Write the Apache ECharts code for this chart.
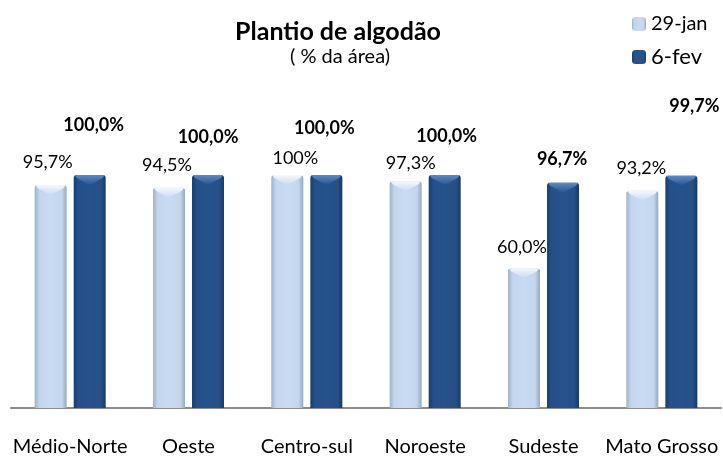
<!DOCTYPE html>
<html><head><meta charset="utf-8">
<script src="https://cdn.jsdelivr.net/npm/echarts@6/dist/echarts.min.js"></script>
<style>html,body{margin:0;padding:0;background:#fff}#c{width:723px;height:457px}</style>
</head><body><div id="c"></div>
<script>
const categories = ['Médio-Norte','Oeste','Centro-sul','Noroeste','Sudeste','Mato Grosso'];
const jan29 = [95.7, 94.5, 100, 97.3, 60.0, 93.2];
const fev6 = [100.0, 100.0, 100.0, 100.0, 96.7, 99.7];
const jan29Labels = ['95,7%','94,5%','100%','97,3%','60,0%','93,2%'];
const fev6Labels = ['100,0%','100,0%','100,0%','100,0%','96,7%','99,7%'];

// label placement tweaks (layout only)
const janOff = [[-3,-9],[-2,-9],[8,-3],[5,-4],[-2,-7],[-1,-9]];
const fevOff = [[4,-36],[0,-24],[-2,-33],[2,-25],[-1,-10],[13,-56]];

const FONT = 'Lato';
const BAR_W = 32, SHIFT = 19.5;
const chart = echarts.init(document.getElementById('c'));
const lightGrad = new echarts.graphic.LinearGradient(0,0,1,0,[
  {offset:0,color:'#9fb2c8'},{offset:0.15,color:'#c3d6ee'},{offset:0.5,color:'#c8dbf2'},{offset:0.85,color:'#c3d6ee'},{offset:1,color:'#95a8be'}]);
const darkGrad = new echarts.graphic.LinearGradient(0,0,1,0,[
  {offset:0,color:'#173e6c'},{offset:0.15,color:'#25508a'},{offset:0.5,color:'#27538c'},{offset:0.85,color:'#25508a'},{offset:1,color:'#163a66'}]);

function bevel(shift, topColor, baseColor){
  return function(params, api){
    const c = api.coord([api.value(0), api.value(1)]);
    const cx = c[0] + shift, T = c[1];
    const L = cx - BAR_W/2 + 1, R = cx + BAR_W/2 - 1;
    return {type:'polygon', silent:true,
      shape:{points:[[L,T],[R,T],[R-2,T+3],[cx,T+10],[L+2,T+3]]},
      style:{fill:new echarts.graphic.LinearGradient(0,0,0,1,[{offset:0,color:topColor},{offset:1,color:baseColor}])}};
  };
}

chart.setOption({
  animation:false,
  title:[
    {text:'Plantio de algodão', left:333, textAlign:'center', top:14, textStyle:{fontFamily:FONT,fontSize:25,fontWeight:'bold',color:'#000'}},
    {text:'( % da área)', left:335, textAlign:'center', top:42, textStyle:{fontFamily:FONT,fontSize:20,fontWeight:'normal',color:'#000'}}
  ],
  legend:[
    {data:['29-jan'], left:627, top:9, itemWidth:14, itemHeight:14, textStyle:{fontFamily:FONT,fontSize:20,color:'#000'}},
    {data:['6-fev'], left:627, top:41, itemWidth:14, itemHeight:14, textStyle:{fontFamily:FONT,fontSize:22,color:'#000'}}
  ],
  grid:{left:11, right:2, top:175, bottom:49, containLabel:false},
  xAxis:{type:'category', data:categories, axisTick:{show:false},
    axisLine:{lineStyle:{color:'#8c8c8c',width:2}},
    axisLabel:{fontFamily:FONT,fontSize:20,color:'#000',margin:29,interval:0,hideOverlap:false}},
  yAxis:{type:'value', min:0, max:100, show:false, splitLine:{show:false}},
  series:[
    {name:'29-jan', type:'bar', barWidth:BAR_W, barGap:'22%',
      itemStyle:{color:lightGrad, borderRadius:[3,3,0,0]},
      data:jan29.map((v,i)=>({value:v, label:{formatter:jan29Labels[i], offset:janOff[i]}})),
      label:{show:true, position:'top', fontFamily:FONT, fontSize:18, color:'#000'}},
    {name:'6-fev', type:'bar', barWidth:BAR_W,
      itemStyle:{color:darkGrad, borderRadius:[3,3,0,0]},
      data:fev6.map((v,i)=>({value:v, label:{formatter:fev6Labels[i], offset:fevOff[i]}})),
      label:{show:true, position:'top', fontFamily:FONT, fontSize:18, fontWeight:'bold', color:'#000'}},
    {type:'custom', silent:true, z:5, renderItem:bevel(-SHIFT,'#f4f8fd','#c8dbf2'),
      data:jan29.map((v,i)=>[i,v])},
    {type:'custom', silent:true, z:5, renderItem:bevel(SHIFT,'#5e8bc4','#27538c'),
      data:fev6.map((v,i)=>[i,v])}
  ]
});
</script></body></html>
